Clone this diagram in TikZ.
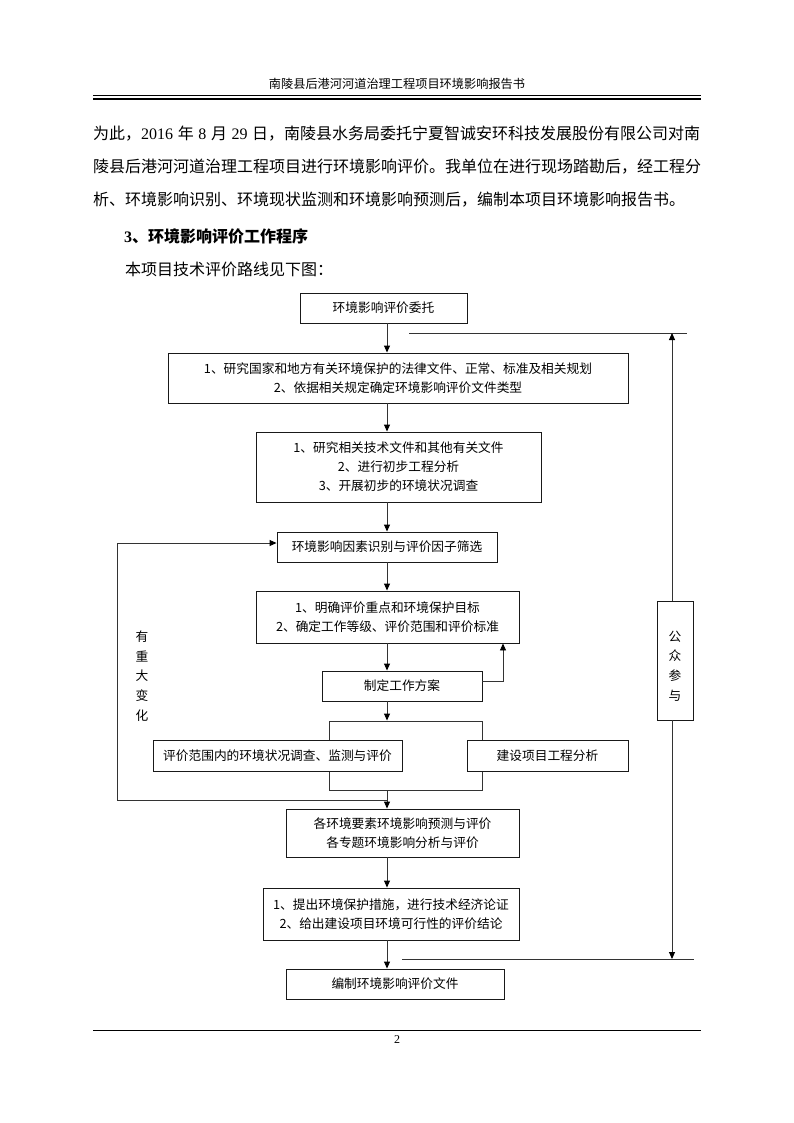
\documentclass[tikz,border=0pt]{standalone}
\usepackage{fontspec}
\setmainfont{Liberation Serif}
\newfontfamily\cjk{Noto Sans CJK SC}
\newfontfamily\latin{Liberation Serif}
\usetikzlibrary{arrows.meta}
\newcommand\boxfont{\cjk\fontsize{12.7pt}{19pt}\selectfont}
\begin{document}
\begin{tikzpicture}[x=1pt,y=-1pt,
  box/.style={draw=black!90, line width=0.9pt, fill=white, inner sep=0pt, align=center, font=\boxfont},
  con/.style={draw=black!80, line width=0.9pt},
  arr/.style={con, -{Triangle[length=7pt,width=6pt,color=black]}},
  body/.style={anchor=west, inner sep=0pt, font=\cjk\fontsize{16pt}{20pt}\selectfont},
  vtext/.style={inner sep=0pt, align=center, font=\cjk\fontsize{12.7pt}{19.8pt}\selectfont}
]
\useasboundingbox (0,0) rectangle (794,1123);
\fill[white] (0,0) rectangle (794,1123);

% header
\node[inner sep=0pt, font=\cjk\fontsize{12.2pt}{14pt}\selectfont] (hdr) at (397,84) {南陵县后港河河道治理工程项目环境影响报告书};
\draw[line width=0.8pt] (93,95.3) -- (701,95.3);
\draw[line width=2.2pt] (93,99.3) -- (701,99.3);

% body text
\node[body] (p1) at (93,134) {\makebox[607pt][l]{为此，{\latin 2016}\hfill 年\hfill{\latin 8}\hfill 月\hfill{\latin 29}\hfill 日，南陵县水务局委托宁夏智诚安环科技发展股份有限公司对南}};
\node[body] (p2) at (93,167) {陵县后港河河道治理工程项目进行环境影响评价。我单位在进行现场踏勘后，经工程分};
\node[body] (p3) at (93,200) {析、环境影响识别、环境现状监测和环境影响预测后，编制本项目环境影响报告书。};
\node[body] (h3) at (124,236) {\bfseries{\latin\bfseries 3}、环境影响评价工作程序};
\node[body] (p5) at (125,269) {本项目技术评价路线见下图：};

% flowchart boxes
\node[box, minimum width=167pt, minimum height=30pt] (b1) at (383.5,308) {环境影响评价委托};
\node[box, minimum width=460pt, minimum height=50pt] (b2) at (398,378) {1、研究国家和地方有关环境保护的法律文件、正常、标准及相关规划\\2、依据相关规定确定环境影响评价文件类型};
\node[box, minimum width=285pt, minimum height=70pt] (b3) at (398.5,467) {1、研究相关技术文件和其他有关文件\\2、进行初步工程分析\\3、开展初步的环境状况调查};
\node[box, minimum width=220pt, minimum height=30pt] (b4) at (387,547) {环境影响因素识别与评价因子筛选};
\node[box, minimum width=263pt, minimum height=52pt] (b5) at (387.5,617) {1、明确评价重点和环境保护目标\\2、确定工作等级、评价范围和评价标准};
\node[box, minimum width=160pt, minimum height=30pt] (b6) at (402,686) {制定工作方案};
\node[draw=black!80, line width=0.9pt, inner sep=0pt, minimum width=153pt, minimum height=69pt] (br) at (405.5,755.5) {};
\node[box, minimum width=249pt, minimum height=31pt] (b7) at (277.5,755.5) {评价范围内的环境状况调查、监测与评价};
\node[box, minimum width=161pt, minimum height=31pt] (b8) at (547.5,755.5) {建设项目工程分析};
\node[box, minimum width=233pt, minimum height=48pt] (b9) at (402.5,833) {各环境要素环境影响预测与评价\\各专题环境影响分析与评价};
\node[box, minimum width=256pt, minimum height=52pt] (b10) at (391,914) {1、提出环境保护措施，进行技术经济论证\\2、给出建设项目环境可行性的评价结论};
\node[box, minimum width=218pt, minimum height=30pt] (b11) at (395,984) {编制环境影响评价文件};
\node[box, minimum width=36pt, minimum height=119pt] (pp) at (675,660.5) {};
\node[vtext] (ppt) at (675,666) {公\\众\\参\\与};
\node[vtext] (chg) at (142,676) {有\\重\\大\\变\\化};

% helper coordinates
\coordinate (ax) at (387,0);
\coordinate (rx) at (672,0);
\coordinate (fb0) at (387,800);
\coordinate (fb1) at (117,800);
\coordinate (fb2) at (117,543);
\coordinate (lp) at (503,681);
\coordinate (ul1) at (409,333);
\coordinate (ul2) at (687,333);
\coordinate (ll1) at (402,959);
\coordinate (ll2) at (694,959);

% main column
\draw[arr] (b1.south -| ax) -- (b2.north -| ax);
\draw[arr] (b2.south -| ax) -- (b3.north -| ax);
\draw[arr] (b3.south -| ax) -- (b4.north -| ax);
\draw[arr] (b4.south -| ax) -- (b5.north -| ax);
\draw[arr] (b5.south -| ax) -- (b6.north -| ax);
\draw[arr] (b6.south -| ax) -- (br.north -| ax);
\draw[arr] (br.south -| ax) -- (b9.north -| ax);
\draw[arr] (b9.south -| ax) -- (b10.north -| ax);
\draw[arr] (b10.south -| ax) -- (b11.north -| ax);

% feedback loops
\draw[con] (fb0) -- (fb1) -- (fb2);
\draw[arr] (fb2) -- (b4.west |- fb2);
\draw[arr] (b6.east |- lp) -- (lp) -- (b5.south -| lp);

% public participation
\draw[con] (ul1) -- (ul2);
\draw[arr] (pp.north -| rx) -- (ul1 -| rx);
\draw[con] (ll1) -- (ll2);
\draw[arr] (pp.south -| rx) -- (ll1 -| rx);

% footer
\draw[line width=0.8pt] (93,1030) -- (701,1030);
\node[inner sep=0pt, font=\latin\fontsize{12pt}{14pt}\selectfont] (pg) at (397,1040) {2};
\end{tikzpicture}
\end{document}
